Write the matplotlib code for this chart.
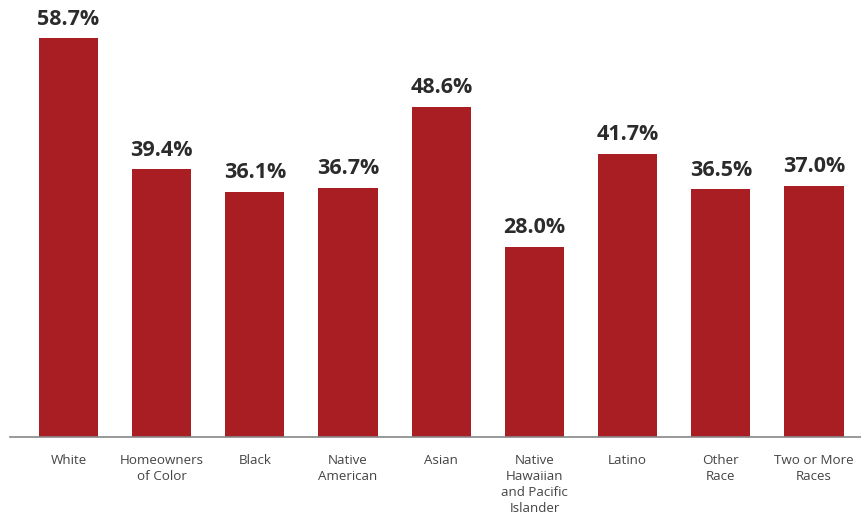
import numpy as np
import matplotlib.pyplot as plt

# homeownership share by race
groups = ["White", "Homeowners\nof Color", "Black", "Native\nAmerican", "Asian",
          "Native\nHawaiian\nand Pacific\nIslander", "Latino", "Other\nRace",
          "Two or More\nRaces"]
values = [58.7, 39.4, 36.1, 36.7, 48.6, 28.0, 41.7, 36.5, 37.0]

bar_color = "#A81E23"

plt.rcParams['font.family'] = ['Open Sans', 'DejaVu Sans']

fig = plt.figure(figsize=(8.62, 5.23), dpi=100)
ax = fig.add_axes([10/862, 86/523, 852/862, 437/523])

x = np.arange(len(groups))
ax.bar(x, values, width=0.635, color=bar_color, zorder=2)

for xi, v in zip(x, values):
    ax.annotate(f"{v:.1f}%", (xi, v), xytext=(0, 6), textcoords="offset points",
                ha="center", va="bottom", fontsize=15.5, fontweight="bold",
                color="#2b2b2b")

ax.set_xlim(-0.628, 8.515)
ax.set_ylim(0, 64.3)

ax.set_xticks(x)
ax.set_xticklabels(groups, fontsize=9.6, color="#444444", linespacing=1.32)
ax.tick_params(axis="x", length=0, pad=12)
ax.set_yticks([])

for s in ["top", "right", "left"]:
    ax.spines[s].set_visible(False)
ax.spines["bottom"].set_color("#888888")
ax.spines["bottom"].set_linewidth(1.2)

fig.savefig("out.png", dpi=100)
